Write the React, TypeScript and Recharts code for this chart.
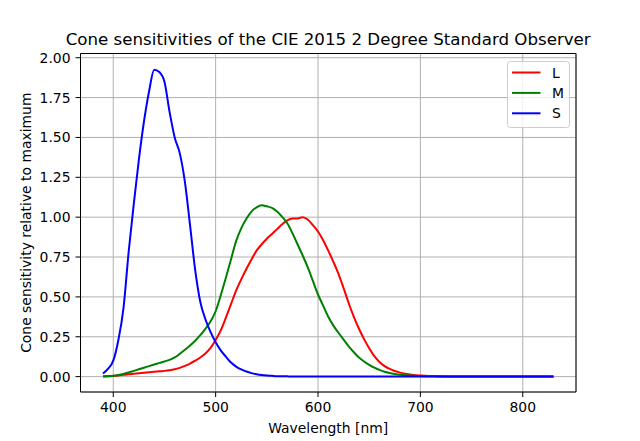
import React from "react"
import { LineChart, Line, XAxis, YAxis, CartesianGrid, Legend, ReferenceLine } from "recharts"

const FONT = "DejaVu Sans, sans-serif"

// wavelengths in nm
const wavelengths = [
  390, 395, 400, 405, 410, 415, 420, 425, 430, 435, 440, 445, 450, 455, 460, 465,
  470, 475, 480, 485, 490, 495, 500, 505, 510, 515, 520, 525, 530, 535, 540, 545,
  550, 555, 560, 565, 570, 575, 580, 585, 590, 595, 600, 605, 610, 615, 620, 625,
  630, 635, 640, 645, 650, 655, 660, 665, 670, 675, 680, 685, 690, 695, 700, 705,
  710, 715, 720, 730, 740, 750, 760, 770, 780, 790, 800, 810, 820, 830,
]

const lCone = [
  0.001, 0.002, 0.004, 0.007, 0.011, 0.015, 0.018, 0.021, 0.024, 0.027, 0.03, 0.033, 0.036, 0.04, 0.046, 0.055,
  0.067, 0.082, 0.1, 0.12, 0.145, 0.18, 0.23, 0.29, 0.37, 0.455, 0.54, 0.61, 0.675, 0.735, 0.79, 0.83,
  0.865, 0.895, 0.925, 0.955, 0.98, 0.992, 0.992, 1.0, 0.985, 0.95, 0.91, 0.855, 0.79, 0.72, 0.645, 0.555,
  0.46, 0.375, 0.3, 0.235, 0.178, 0.128, 0.092, 0.066, 0.048, 0.035, 0.025, 0.018, 0.013, 0.009, 0.007, 0.005,
  0.004, 0.003, 0.002, 0.001, 0.0005, 0, 0, 0, 0, 0, 0, 0, 0, 0,
]

const mCone = [
  0.002, 0.003, 0.005, 0.01, 0.017, 0.026, 0.036, 0.046, 0.056, 0.066, 0.076, 0.086, 0.095, 0.105, 0.12, 0.143,
  0.168, 0.195, 0.225, 0.26, 0.3, 0.345, 0.41, 0.51, 0.62, 0.735, 0.85, 0.93, 0.99, 1.035, 1.062, 1.075,
  1.068, 1.058, 1.035, 1.002, 0.962, 0.9, 0.83, 0.76, 0.685, 0.6, 0.515, 0.445, 0.375, 0.32, 0.275, 0.232,
  0.19, 0.153, 0.12, 0.095, 0.074, 0.056, 0.042, 0.031, 0.023, 0.017, 0.012, 0.009, 0.007, 0.005, 0.004, 0.003,
  0.002, 0.0015, 0.001, 0.0005, 0, 0, 0, 0, 0, 0, 0, 0, 0, 0,
]

const sCone = [
  0.02, 0.05, 0.1, 0.23, 0.43, 0.78, 1.08, 1.36, 1.6, 1.79, 1.925, 1.91, 1.85, 1.66, 1.5, 1.4,
  1.22, 0.95, 0.67, 0.47, 0.36, 0.28, 0.215, 0.165, 0.125, 0.088, 0.063, 0.045, 0.032, 0.022, 0.015, 0.01,
  0.007, 0.005, 0.003, 0.002, 0.0015, 0.001, 0.0008, 0.0005, 0.0003, 0, 0, 0, 0, 0, 0, 0,
  0, 0, 0, 0, 0, 0, 0, 0, 0, 0, 0, 0, 0, 0, 0, 0,
  0, 0, 0, 0, 0, 0, 0, 0, 0, 0, 0, 0, 0, 0,
]

const xTicks = [400, 500, 600, 700, 800]
const yTicks = [0, 0.25, 0.5, 0.75, 1.0, 1.25, 1.5, 1.75, 2.0]
const xDomain = [368, 852]
const yDomain = [-0.0965, 2.0265]

const series = [
  { key: "L", color: "#ff0000" },
  { key: "M", color: "#008000" },
  { key: "S", color: "#0000ff" },
]

const data = wavelengths.map((w, i) => ({ w, L: lCone[i], M: mCone[i], S: sCone[i] }))

function LegendBox() {
  return (
    <svg width={64} height={68} style={{ display: "block", overflow: "visible" }}>
      <rect x={0.5} y={0.5} width={62} height={66} rx={3} fill="rgba(255,255,255,0.8)" stroke="#cccccc" />
      {series.map((s, i) => (
        <g key={s.key}>
          <line x1={5} x2={33.5} y1={11.5 + i * 20.4} y2={11.5 + i * 20.4} stroke={s.color} strokeWidth={2} />
          <text x={45} y={16.5 + i * 20.4} fontSize={13.9} fontFamily={FONT} fill="#000">
            {s.key}
          </text>
        </g>
      ))}
    </svg>
  )
}

export default function App() {
  return (
    <div style={{ position: "absolute", left: 0, top: 0, width: 640, height: 441, background: "#fff" }}>
      <LineChart
        width={640}
        height={441}
        data={data}
        margin={{ top: 53.5, right: 64, left: 0, bottom: 0 }}
      >
        <CartesianGrid stroke="#b0b0b0" strokeWidth={1} horizontal vertical />
        <XAxis
          dataKey="w"
          type="number"
          domain={xDomain}
          ticks={xTicks}
          allowDataOverflow
          height={49}
          tickSize={5}
          tickMargin={5}
          stroke="#000"
          tick={{ fill: "#000", fontSize: 13.9, fontFamily: FONT }}
        />
        <YAxis
          type="number"
          domain={yDomain}
          ticks={yTicks}
          allowDataOverflow
          width={80.5}
          tickSize={5}
          tickMargin={5}
          stroke="#000"
          tickFormatter={(v: number) => v.toFixed(2)}
          tick={{ fill: "#000", fontSize: 13.9, fontFamily: FONT }}
        />
        {series.map((s) => (
          <Line
            key={s.key}
            dataKey={s.key}
            stroke={s.color}
            strokeWidth={2}
            dot={false}
            activeDot={false}
            type="monotone"
            isAnimationActive={false}
          />
        ))}
        {/* top and right spines */}
        <ReferenceLine y={yDomain[1]} stroke="#000" strokeWidth={1} />
        <ReferenceLine x={xDomain[1]} stroke="#000" strokeWidth={1} />
        <Legend
          layout="horizontal"
          verticalAlign="middle"
          align="center"
          wrapperStyle={{ left: 507, top: 60.5, width: 64, height: 68 }}
          content={() => <LegendBox />}
        />
      </LineChart>
      <svg
        width={640}
        height={441}
        style={{ position: "absolute", left: 0, top: 0, pointerEvents: "none" }}
      >
        <text x={328.2} y={45} textAnchor="middle" fontSize={16.67} fontFamily={FONT} fill="#000">
          Cone sensitivities of the CIE 2015 2 Degree Standard Observer
        </text>
        <text x={328.2} y={433} textAnchor="middle" fontSize={13.9} fontFamily={FONT} fill="#000">
          Wavelength [nm]
        </text>
        <text
          x={31.5}
          y={222.7}
          textAnchor="middle"
          fontSize={13.9}
          fontFamily={FONT}
          fill="#000"
          transform="rotate(-90 31.5 222.7)"
        >
          Cone sensitivity relative to maximum
        </text>
      </svg>
    </div>
  )
}
